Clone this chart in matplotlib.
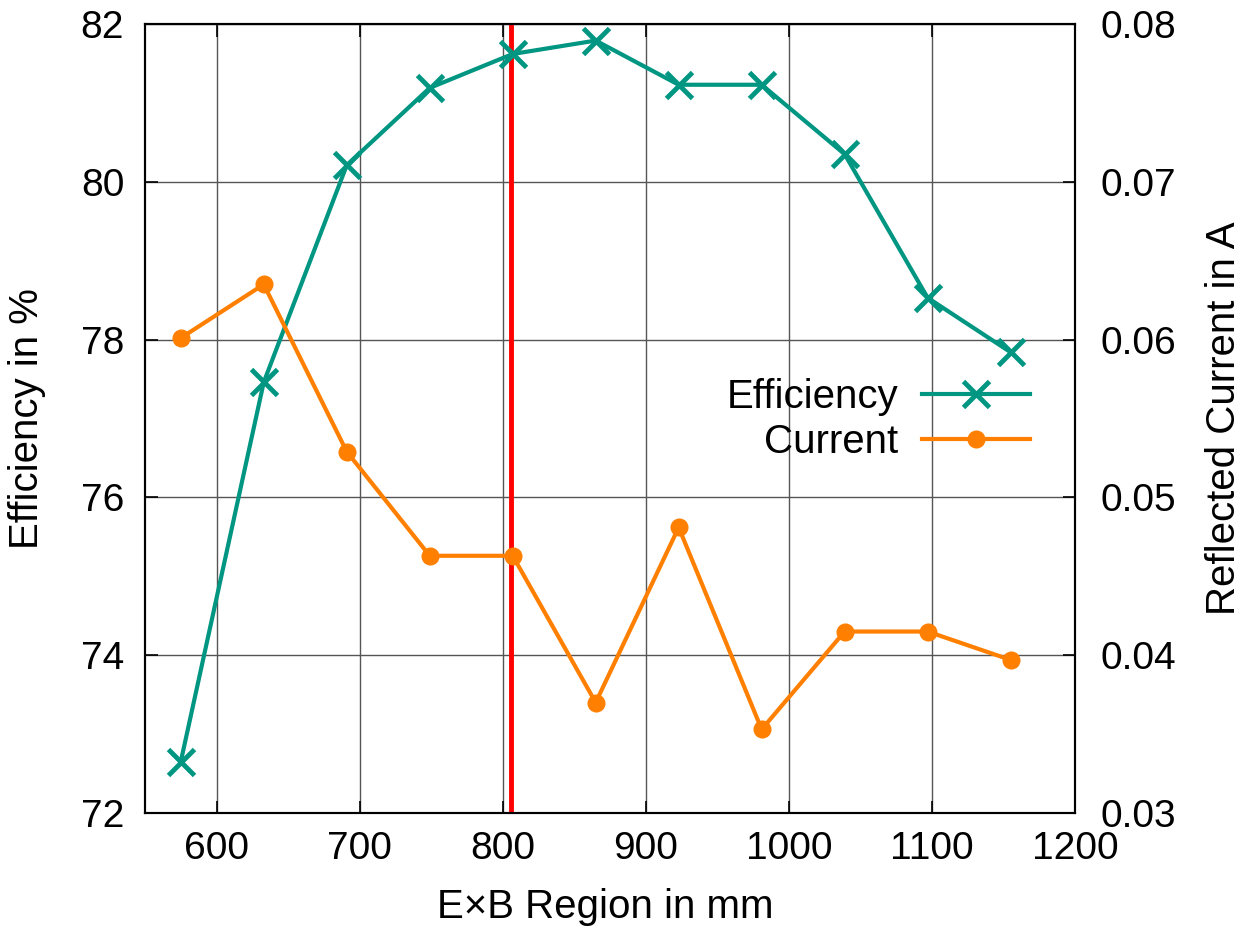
import matplotlib
matplotlib.use("Agg")
import matplotlib.pyplot as plt

plt.rcParams["font.family"] = ["Liberation Sans", "DejaVu Sans"]
plt.rcParams["font.size"] = 29

# ---------------- DATA ----------------
region_mm = [575, 633, 691, 749, 807, 865, 923, 981, 1039, 1097, 1155]
efficiency = [72.65, 77.46, 80.21, 81.19, 81.62, 81.79, 81.23, 81.23, 80.35, 78.53, 77.84]
current = [0.0601, 0.0635, 0.0529, 0.0463, 0.0463, 0.0370, 0.0481, 0.0353, 0.0415, 0.0415, 0.0397]
marker_x = 806

teal = "#009682"
orange = "#ff8000"

W, H = 1255, 933

# ---------------- FIGURE ----------------
fig = plt.figure(figsize=(W / 100, H / 100), dpi=100)
ax = fig.add_axes([145 / W, 1 - 813 / H, (1075 - 145) / W, (813 - 24) / H])
ax2 = ax.twinx()

ax.set_xlim(550, 1200)
ax.set_ylim(72, 82)
ax2.set_ylim(0.03, 0.08)

ax.set_xticks([600, 700, 800, 900, 1000, 1100, 1200])
ax.set_yticks([72, 74, 76, 78, 80, 82])
ax2.set_yticks([0.03, 0.04, 0.05, 0.06, 0.07, 0.08])
ax2.set_yticklabels(["0.03", "0.04", "0.05", "0.06", "0.07", "0.08"])

ax.grid(True, color="#555555", linewidth=1.0)
ax.set_axisbelow(True)
ax.tick_params(axis="y", direction="in", length=9, width=1.2, pad=15, labelsize=28)
ax.tick_params(axis="x", direction="in", length=9, width=1.2, top=True, pad=13, labelsize=28)
ax2.tick_params(direction="in", length=9, width=1.2, pad=18, labelsize=28)
for a in (ax, ax2):
    for s in a.spines.values():
        s.set_linewidth(1.5)

ax.axvline(marker_x, color="red", linewidth=3.5, zorder=2)

l1, = ax.plot(region_mm, efficiency, color=teal, linewidth=3, marker="x",
              markersize=19, markeredgewidth=3.5, label="Efficiency", zorder=3)
l2, = ax2.plot(region_mm, current, color=orange, linewidth=3, marker="o",
               markersize=12, label="Current", zorder=3)

ax.set_xlabel("E×B Region in mm")
ax.set_ylabel("Efficiency in %")
ax2.set_ylabel("Reflected Current in A")
ax.xaxis.set_label_coords(0.4946, -0.095)
ax.yaxis.set_label_coords(-0.106, 0.5)
ax2.yaxis.set_label_coords(1.14, 0.5)

ax2.legend([l1, l2], ["Efficiency", "Current"], loc="center right",
           bbox_to_anchor=(1030 / W, 1 - 419.5 / H), bbox_transform=fig.transFigure,
           frameon=False, markerfirst=False, borderpad=0, borderaxespad=0,
           handlelength=2.68, handletextpad=0.6, labelspacing=0.17)

fig.savefig("out.png", dpi=100)
